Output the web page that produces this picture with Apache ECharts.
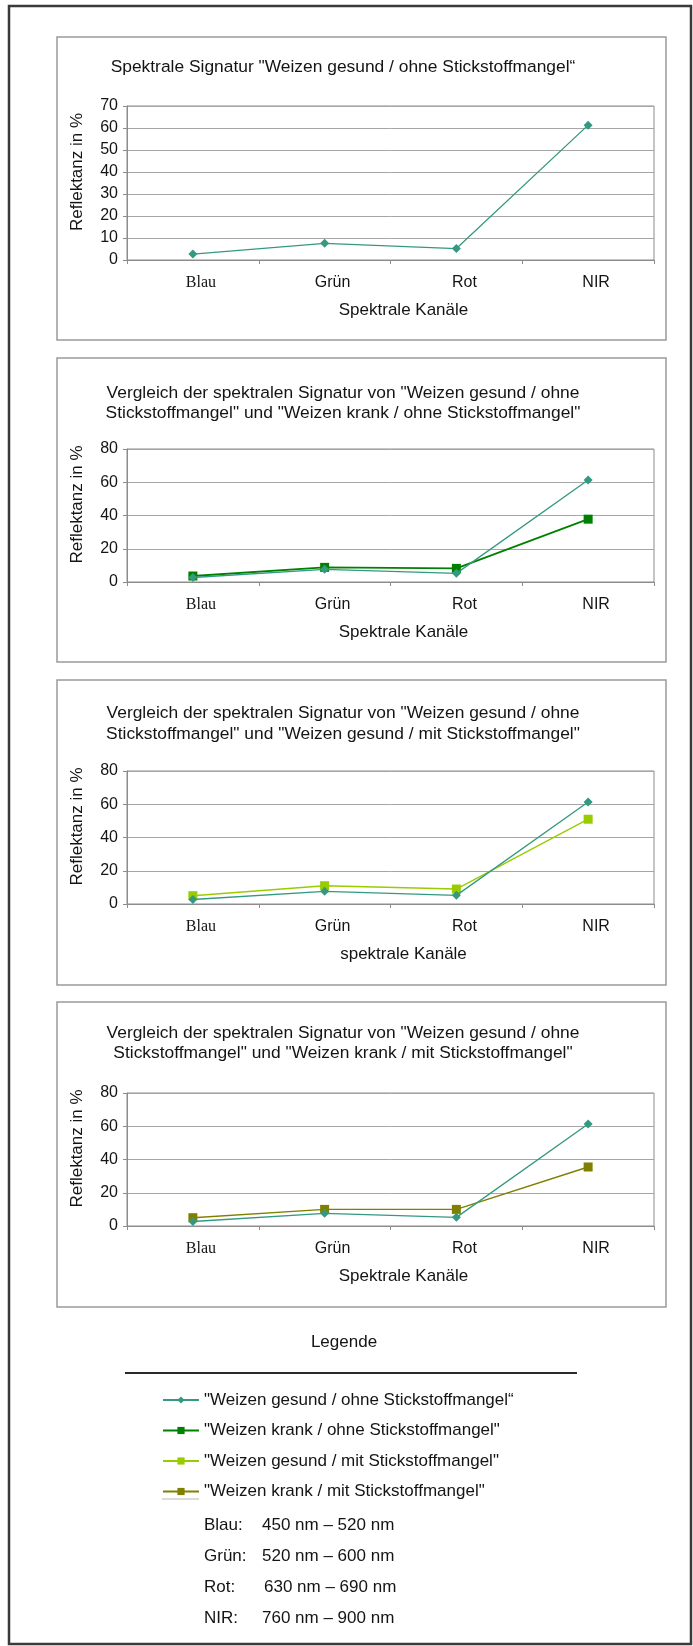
<!DOCTYPE html>
<html>
<head>
<meta charset="utf-8">
<script src="https://cdn.jsdelivr.net/npm/echarts@6/dist/echarts.min.js"></script>
<style>
  html, body { margin: 0; padding: 0; background: #fff; }
  #chart { width: 693px; height: 1646px; }
</style>
</head>
<body>
<div id="chart"></div>
<script>
// Spectral channels on the x axis
const categories = ['Blau', 'Grün', 'Rot', 'NIR'];

// Reflectance in % per channel
const gesundOhne = [2.7, 7.6, 5.2, 61.3];
const krankOhne  = [3.6, 8.8, 8.2, 37.8];
const gesundMit  = [5.0, 11.0, 9.0, 51.0];
const krankMit   = [5.0, 10.0, 10.0, 35.5];

// Series names as shown in the legend
const nameGesundOhne = '"Weizen gesund / ohne Stickstoffmangel\u201C';
const nameKrankOhne  = '"Weizen krank / ohne Stickstoffmangel"';
const nameGesundMit  = '"Weizen gesund / mit Stickstoffmangel"';
const nameKrankMit   = '"Weizen krank / mit Stickstoffmangel"';

// Y scale per panel: [max, interval]
const yScales = [[70, 10], [80, 20], [80, 20], [80, 20]];

// Panel headings and x axis titles
const panelTitles = [
  'Spektrale Signatur "Weizen gesund / ohne Stickstoffmangel\u201C',
  'Vergleich der spektralen Signatur von "Weizen gesund / ohne\nStickstoffmangel" und "Weizen krank / ohne Stickstoffmangel"',
  'Vergleich der spektralen Signatur von "Weizen gesund / ohne\nStickstoffmangel" und "Weizen gesund / mit Stickstoffmangel"',
  'Vergleich der spektralen Signatur von "Weizen gesund / ohne\nStickstoffmangel" und "Weizen krank / mit Stickstoffmangel"'
];
const xAxisTitles = ['Spektrale Kanäle', 'Spektrale Kanäle', 'spektrale Kanäle', 'Spektrale Kanäle'];

// Wavelength ranges of the channels
const bandNames  = ['Blau:', 'Grün:', 'Rot:', 'NIR:'];
const bandRanges = ['450 nm \u2013 520 nm', '520 nm \u2013 600 nm', '630 nm \u2013 690 nm', '760 nm \u2013 900 nm'];

const SANS = '"Liberation Sans", Arial, sans-serif';
const SERIF = '"Liberation Serif", "Times New Roman", serif';
const TEXT = '#141414';

const colGesundOhne = '#339980';
const colKrankOhne = '#008000';
const colGesundMit = '#99cc00';
const colKrankMit = '#808000';

// Layout of the four panels
const panels = [
  { box: [57, 37, 609, 303],  grid: [127, 106, 527, 154], titleY: 67 },
  { box: [57, 358, 609, 304], grid: [127, 449, 527, 133], titleY: 403 },
  { box: [57, 680, 609, 305], grid: [127, 771, 527, 133], titleY: 723.5 },
  { box: [57, 1002, 609, 305], grid: [127, 1093, 527, 133], titleY: 1043 }
];

const grids = panels.map(p => ({
  left: p.grid[0], top: p.grid[1], width: p.grid[2], height: p.grid[3],
  show: true, borderColor: '#8c8c8c', borderWidth: 1, backgroundColor: 'transparent'
}));

const xAxes = panels.map((p, i) => ({
  type: 'category', gridIndex: i, data: categories, boundaryGap: true,
  axisLine: { lineStyle: { color: '#8c8c8c', width: 1 } },
  axisTick: { show: true, length: 4, lineStyle: { color: '#8c8c8c' } },
  axisLabel: {
    margin: 15, fontSize: 16, color: TEXT, fontFamily: SANS, padding: [0, 0, 0, 16],
    formatter: v => v === 'Blau' ? '{serif|' + v + '}' : v,
    rich: { serif: { fontFamily: SERIF, fontSize: 16, color: TEXT } }
  },
  name: xAxisTitles[i], nameLocation: 'middle', nameGap: 42,
  nameTextStyle: { fontSize: 17, color: TEXT, fontFamily: SANS, padding: [0, 0, 0, 26] }
}));

const yAxes = panels.map((p, i) => ({
  type: 'value', gridIndex: i, min: 0, max: yScales[i][0], interval: yScales[i][1],
  axisLine: { show: true, lineStyle: { color: '#8c8c8c', width: 1 } },
  axisTick: { show: true, length: 4, lineStyle: { color: '#8c8c8c' } },
  axisLabel: { margin: 9, fontSize: 16, color: TEXT, fontFamily: SANS },
  splitLine: { show: true, lineStyle: { color: '#a6a6a6', width: 1 } },
  name: 'Reflektanz in %', nameLocation: 'middle', nameGap: 41,
  nameTextStyle: { fontSize: 17, color: TEXT, fontFamily: SANS, padding: [0, 0, 0, 22] }
}));

function lineSeries(name, data, idx, color, symbol, size, width, z) {
  return {
    type: 'line', name, data, xAxisIndex: idx, yAxisIndex: idx,
    symbol, symbolSize: size, showSymbol: true, animation: false, z,
    lineStyle: { color, width }, itemStyle: { color }
  };
}

const series = [
  lineSeries(nameGesundOhne, gesundOhne, 0, colGesundOhne, 'diamond', 9, 1.3, 3),
  lineSeries(nameGesundOhne, gesundOhne, 1, colGesundOhne, 'diamond', 9, 1.3, 3),
  lineSeries(nameKrankOhne, krankOhne, 1, colKrankOhne, 'rect', 9, 1.8, 2),
  lineSeries(nameGesundOhne, gesundOhne, 2, colGesundOhne, 'diamond', 9, 1.3, 3),
  lineSeries(nameGesundMit, gesundMit, 2, colGesundMit, 'rect', 9, 1.4, 2),
  lineSeries(nameGesundOhne, gesundOhne, 3, colGesundOhne, 'diamond', 9, 1.3, 3),
  lineSeries(nameKrankMit, krankMit, 3, colKrankMit, 'rect', 9, 1.4, 2)
];

// Frames, headings and the legend notes
const graphics = [
  { type: 'rect', shape: { x: 9, y: 6, width: 682, height: 1638 },
    style: { fill: 'none', stroke: '#3a3a3a', lineWidth: 2.5 }, silent: true, z: -1 }
];
panels.forEach((p, i) => {
  graphics.push({ type: 'rect', shape: { x: p.box[0], y: p.box[1], width: p.box[2], height: p.box[3] },
    style: { fill: 'none', stroke: '#9a9a9a', lineWidth: 1.5 }, silent: true, z: -1 });
  graphics.push({ type: 'text', x: 343, y: p.titleY,
    style: { text: panelTitles[i], font: '17.4px ' + SANS, fill: TEXT, textAlign: 'center',
             textVerticalAlign: 'middle', lineHeight: 20.5 }, silent: true });
});
graphics.push({ type: 'text', x: 344, y: 1342,
  style: { text: 'Legende', font: '17px ' + SANS, fill: TEXT, textAlign: 'center', textVerticalAlign: 'middle' } });
graphics.push({ type: 'line', shape: { x1: 125, y1: 1373, x2: 577, y2: 1373 },
  style: { stroke: '#2a2a2a', lineWidth: 2 } });
graphics.push({ type: 'line', shape: { x1: 162, y1: 1499, x2: 199, y2: 1499 },
  style: { stroke: '#cfcfcf', lineWidth: 1.5 } });
bandNames.forEach((b, i) => {
  const y = 1525 + i * 31;
  graphics.push({ type: 'text', x: 204, y,
    style: { text: b, font: '17px ' + SANS, fill: TEXT, textVerticalAlign: 'middle' } });
  graphics.push({ type: 'text', x: i === 2 ? 264 : 262, y,
    style: { text: bandRanges[i], font: '17px ' + SANS, fill: TEXT, textVerticalAlign: 'middle' } });
});

const chart = echarts.init(document.getElementById('chart'), null, { renderer: 'canvas' });
chart.setOption({
  animation: false,
  backgroundColor: '#ffffff',
  textStyle: { fontFamily: SANS },
  grid: grids,
  xAxis: xAxes,
  yAxis: yAxes,
  series,
  legend: {
    orient: 'vertical', left: 162, top: 1390, padding: 0,
    itemWidth: 36, itemHeight: 9, itemGap: 10.5, selectedMode: false,
    data: [nameGesundOhne, nameKrankOhne, nameGesundMit, nameKrankMit],
    textStyle: { fontSize: 17, lineHeight: 20, color: TEXT, fontFamily: SANS }
  },
  graphic: graphics
});
</script>
</body>
</html>
